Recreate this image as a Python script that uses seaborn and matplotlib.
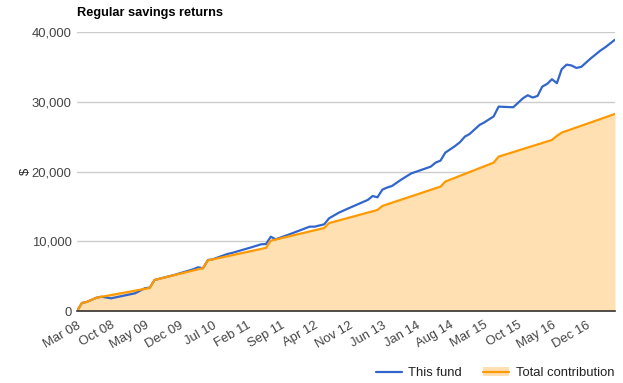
import matplotlib
matplotlib.use("Agg")
import matplotlib.pyplot as plt
from matplotlib.lines import Line2D
from matplotlib.patches import Patch
from matplotlib.ticker import FuncFormatter
import seaborn as sns
import pandas as pd

# ---- data ----
fund_dates = ["2008-03", "2008-04", "2008-05", "2008-07", "2008-08", "2008-10", "2009-03",
              "2009-05", "2009-06", "2009-07", "2009-11", "2010-03", "2010-04", "2010-05",
              "2010-06", "2010-07", "2010-10", "2010-11", "2011-03", "2011-05", "2011-06",
              "2011-07", "2011-08", "2011-11", "2012-03", "2012-04", "2012-06", "2012-07",
              "2012-09", "2012-11", "2013-03", "2013-04", "2013-05", "2013-06", "2013-07",
              "2013-08", "2013-10", "2013-12", "2014-01", "2014-04", "2014-05", "2014-06",
              "2014-07", "2014-09", "2014-10", "2014-11", "2014-12", "2015-02", "2015-03",
              "2015-05", "2015-06", "2015-09", "2015-11", "2015-12", "2016-01", "2016-02",
              "2016-03", "2016-04", "2016-05", "2016-06", "2016-07", "2016-08", "2016-09",
              "2016-10", "2016-11", "2017-01", "2017-03", "2017-04", "2017-06"]
fund_values = [0, 1150, 1300, 1900, 2050, 1820, 2540,
               3260, 3350, 4450, 5160, 5980, 6270, 6120,
               7300, 7410, 8170, 8330, 9130, 9560, 9600,
               10650, 10280, 11040, 12090, 12090, 12430, 13290,
               14100, 14730, 15920, 16490, 16300, 17400, 17700,
               17930, 18890, 19750, 19980, 20700, 21270, 21560,
               22700, 23660, 24200, 25000, 25380, 26670, 27010,
               27900, 29300, 29210, 30500, 30930, 30600, 30840,
               32170, 32560, 33230, 32660, 34660, 35320, 35200,
               34850, 35000, 36240, 37330, 37810, 38900]

contrib_dates = ["2008-03", "2008-04", "2008-05", "2008-07", "2009-06", "2009-07",
                 "2010-05", "2010-06", "2011-06", "2011-07", "2012-06", "2012-07",
                 "2013-05", "2013-06", "2014-06", "2014-07", "2015-05", "2015-06",
                 "2016-05", "2016-06", "2016-07", "2017-06"]
contrib_values = [0, 1150, 1300, 1900, 3300, 4450,
                  6150, 7250, 9050, 10080, 11900, 12600,
                  14480, 15060, 17830, 18550, 21270, 22130,
                  24520, 25100, 25570, 28250]

title = "Regular savings returns"
series_names = ["This fund", "Total contribution"]
y_ticks = [0, 10000, 20000, 30000, 40000]

fund = pd.DataFrame({"date": pd.to_datetime(fund_dates), "value": fund_values})
contrib = pd.DataFrame({"date": pd.to_datetime(contrib_dates), "value": contrib_values})

# ---- styling ----
sns.set_theme(style="white")
plt.rcParams["font.family"] = ["Liberation Sans", "DejaVu Sans"]

BLUE = "#3366cc"
ORANGE = "#ff9900"
FILL = "#ffe0b3"
GRID = "#cccccc"
TXT = "#444444"

fig = plt.figure(figsize=(6.23, 3.83), dpi=100)
ax = fig.add_axes([77 / 623, 1 - 311 / 383, (615 - 77) / 623, (311 - 32) / 383])

ax.fill_between(contrib["date"], 0, contrib["value"], color=FILL, lw=0, zorder=1)
sns.lineplot(data=fund, x="date", y="value", ax=ax, color=BLUE, lw=1.6, zorder=3)
sns.lineplot(data=contrib, x="date", y="value", ax=ax, color=ORANGE, lw=1.6, zorder=4)

ax.set_xlim(pd.Timestamp("2008-03-01"), pd.Timestamp("2017-06-01"))
ax.set_ylim(0, 40000)
ax.set_yticks(y_ticks)
ax.yaxis.set_major_formatter(FuncFormatter(lambda v, p: f"{int(v):,}"))
ax.grid(axis="y", color=GRID, lw=1)
ax.set_axisbelow(True)
for s in ["top", "right", "left"]:
    ax.spines[s].set_visible(False)
ax.spines["bottom"].set_color("#333333")
ax.spines["bottom"].set_linewidth(1.2)
ax.spines["bottom"].set_zorder(5)

xt = pd.date_range("2008-03-01", "2016-12-01", freq="7MS")
ax.set_xticks(xt)
ax.set_xticklabels([d.strftime("%b %y") for d in xt], rotation=30, ha="right",
                   rotation_mode="anchor", color=TXT, fontsize=9.4)
ax.tick_params(axis="x", length=0, pad=6)
ax.tick_params(axis="y", length=0, pad=4, labelcolor=TXT, labelsize=9.4)
ax.set_xlabel("")
ax.set_ylabel("$", rotation=90, fontsize=9.4, color="#222222", labelpad=0)

fig.text(77 / 623, 1 - 13 / 383, title, fontsize=9.2, fontweight="bold",
         ha="left", va="center", color="#000000")

handles = [Line2D([0], [0], color=BLUE, lw=1.6),
           (Patch(facecolor=FILL, edgecolor="none"), Line2D([0], [0], color=ORANGE, lw=1.6))]
fig.legend(handles, series_names, loc="center right", bbox_to_anchor=(626 / 623, 1 - 373 / 383),
           ncol=2, frameon=False, fontsize=9.4, handlelength=2.0, handletextpad=0.5,
           columnspacing=1.6, labelcolor="#222222")

fig.savefig("out.png", dpi=100)
